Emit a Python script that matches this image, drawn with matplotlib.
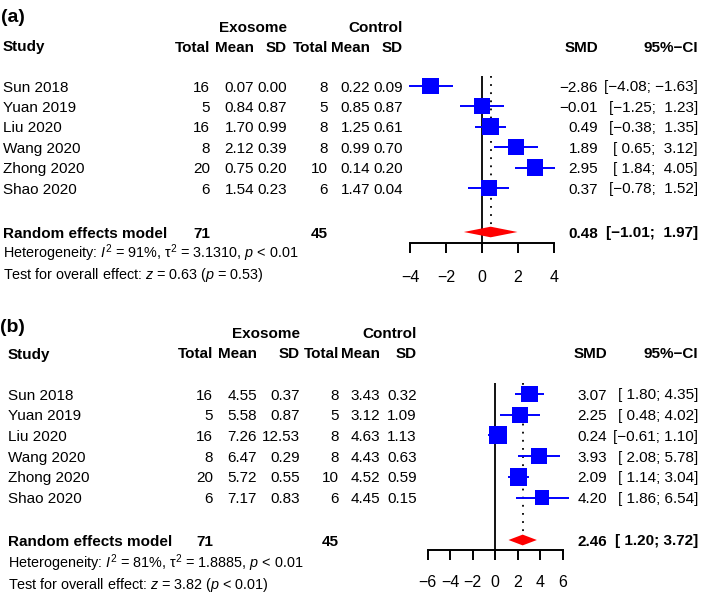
import matplotlib
matplotlib.use("Agg")
import matplotlib.pyplot as plt
from matplotlib.patches import Polygon

plt.rcParams['font.family'] = ['Liberation Sans', 'DejaVu Sans']
plt.rcParams['mathtext.fontset'] = 'custom'
plt.rcParams['mathtext.rm'] = 'Liberation Sans'
plt.rcParams['mathtext.it'] = 'Liberation Sans:italic'
plt.rcParams['mathtext.bf'] = 'Liberation Sans:bold'

MINUS = "\u2212"
W, H = 702, 592

studies = ["Sun 2018", "Yuan 2019", "Liu 2020", "Wang 2020", "Zhong 2020", "Shao 2020"]

# panel (a)
a_exo_n = [16, 5, 16, 8, 20, 6]
a_exo_mean = [0.07, 0.84, 1.70, 2.12, 0.75, 1.54]
a_exo_sd = [0.00, 0.87, 0.99, 0.39, 0.20, 0.23]
a_ctl_n = [8, 5, 8, 8, 10, 6]
a_ctl_mean = [0.22, 0.85, 1.25, 0.99, 0.14, 1.47]
a_ctl_sd = [0.09, 0.87, 0.61, 0.70, 0.20, 0.04]
a_smd = [-2.86, -0.01, 0.49, 1.89, 2.95, 0.37]
a_lo = [-4.08, -1.25, -0.38, 0.65, 1.84, -0.78]
a_hi = [-1.63, 1.23, 1.35, 3.12, 4.05, 1.52]
a_weight = [16.4, 16.4, 17.4, 16.4, 16.8, 16.6]
a_pooled = [0.48, -1.01, 1.97]
a_totals = [71, 45]
a_het = r"Heterogeneity: $I^2$ = 91%, $\mathrm{\tau}^2$ = 3.1310, $p$ < 0.01"
a_test = r"Test for overall effect: $z$ = 0.63 ($p$ = 0.53)"
a_ticks = [-4, -2, 0, 2, 4]

# panel (b)
b_exo_n = [16, 5, 16, 8, 20, 6]
b_exo_mean = [4.55, 5.58, 7.26, 6.47, 5.72, 7.17]
b_exo_sd = [0.37, 0.87, 12.53, 0.29, 0.55, 0.83]
b_ctl_n = [8, 5, 8, 8, 10, 6]
b_ctl_mean = [3.43, 3.12, 4.63, 4.43, 4.52, 4.45]
b_ctl_sd = [0.32, 1.09, 1.13, 0.63, 0.59, 0.15]
b_smd = [3.07, 2.25, 0.24, 3.93, 2.09, 4.20]
b_lo = [1.80, 0.48, -0.61, 2.08, 1.14, 1.86]
b_hi = [4.35, 4.02, 1.10, 5.78, 3.04, 6.54]
b_weight = [17.9, 15.3, 19.9, 14.9, 19.5, 12.5]
b_pooled = [2.46, 1.20, 3.72]
b_totals = [71, 45]
b_het = r"Heterogeneity: $I^2$ = 81%, $\mathrm{\tau}^2$ = 1.8885, $p$ < 0.01"
b_test = r"Test for overall effect: $z$ = 3.82 ($p$ < 0.01)"
b_ticks = [-6, -4, -2, 0, 2, 4, 6]


def num(v):
    return f"{v:.2f}".replace("-", MINUS)


def ci_strings(lo, hi):
    # padded like R's meta output
    los = [f"{v:.2f}" for v in lo]
    his = [f"{v:.2f}" for v in hi]
    wl = max(len(s) for s in los)
    wh = max(len(s) for s in his)
    out = []
    for l, h in zip(los, his):
        s = "[" + l.rjust(wl) + "; " + h.rjust(wh) + "]"
        out.append(s.replace("-", MINUS))
    return out


fig = plt.figure(figsize=(W / 100, H / 100), dpi=100)
tx = fig.add_axes([0, 0, 1, 1])
tx.set_xlim(0, W)
tx.set_ylim(H, 0)
tx.axis('off')

FS = 11
BASE = 5.5  # baseline offset from row centre, px


def put(x, y, s, ha='right', bold=False, size=FS):
    tx.text(x, y + BASE, s, ha=ha, va='baseline', fontsize=size,
            fontweight='bold' if bold else 'normal')


def panel(tag, exo_n, exo_mean, exo_sd, ctl_n, ctl_mean, ctl_sd, smd, lo, hi,
          weight, pooled, totals, het, test, ticks, lay):
    xl = lay['left']
    c = lay['cols']
    put(lay['tagx'], lay['tagy'], tag, ha='left', bold=True, size=14)
    put(c[2], lay['y_super'], "Exosome", bold=True)
    put(c[5], lay['y_super'], "Control", bold=True)
    put(xl, lay['y_head'], "Study", ha='left', bold=True)
    for x, s in zip(c, ["Total", "Mean", "SD", "Total", "Mean", "SD"]):
        put(x, lay['y_head'], s, bold=True)
    put(lay['smd'], lay['y_head'], "SMD", bold=True)
    put(lay['ci'], lay['y_head'], "95%" + MINUS + "CI", bold=True)

    cis = ci_strings(lo + [pooled[1]], hi + [pooled[2]])
    for i, name in enumerate(studies):
        y = lay['row0'] + i * lay['dy']
        put(xl, y, name, ha='left')
        vals = [str(exo_n[i]), num(exo_mean[i]), num(exo_sd[i]),
                str(ctl_n[i]), num(ctl_mean[i]), num(ctl_sd[i])]
        for x, s in zip(c, vals):
            put(x, y, s)
        put(lay['smd'], y, num(smd[i]))
        put(lay['ci'], y, cis[i])

    yr = lay['y_rand']
    put(xl, yr, "Random effects model", ha='left', bold=True)
    put(c[0], yr, str(totals[0]), bold=True)
    put(c[3], yr, str(totals[1]), bold=True)
    put(lay['smd'], yr, num(pooled[0]), bold=True)
    put(lay['ci'], yr, cis[-1], bold=True)
    put(xl, lay['y_het'], het, ha='left', size=10.4)
    put(xl, lay['y_test'], test, ha='left', size=10.4)

    # forest plot axes
    x0, x1 = lay['xlim']
    ppu = lay['ppu']
    left = lay['zero'] - (0 - x0) * ppu
    width = (x1 - x0) * ppu
    top, bot = lay['top'], lay['axis']
    ax = fig.add_axes([left / W, 1 - bot / H, width / W, (bot - top) / H])
    ax.patch.set_alpha(0)
    r_top = (top - lay['row0']) / lay['dy']
    r_bot = (bot - lay['row0']) / lay['dy']
    r_pool = (yr - lay['row0']) / lay['dy']
    ax.set_xlim(x0, x1)
    ax.set_ylim(r_bot, r_top)
    for s in ['left', 'right', 'top']:
        ax.spines[s].set_visible(False)
    ax.spines['bottom'].set_bounds(ticks[0], ticks[-1])
    ax.spines['bottom'].set_linewidth(1.4)
    ax.set_yticks([])
    ax.set_xticks(ticks)
    ax.set_xticklabels([str(t).replace("-", MINUS) for t in ticks])
    ax.tick_params(axis='x', direction='out', length=7.2, width=1.4,
                   labelsize=11.5, pad=lay['pad'])

    ax.axvline(0, color='black', lw=1.3)
    dh = 0.26
    ax.plot([pooled[0], pooled[0]], [r_top, r_pool - dh], color='black',
            lw=1.3, linestyle=(0, (1, 3.5)))
    rows = list(range(len(studies)))
    ax.hlines(rows, lo, hi, color='#0000FF', lw=1.4, clip_on=False)
    sizes = [(4.0 * w ** 0.5 * 0.72) ** 2 for w in weight]
    ax.scatter(smd, rows, s=sizes, marker='s', color='#0000FF', linewidths=0,
               zorder=5, clip_on=False)
    ax.add_patch(Polygon([(pooled[1], r_pool), (pooled[0], r_pool - dh),
                          (pooled[2], r_pool), (pooled[0], r_pool + dh)],
                         closed=True, facecolor='#FF0000', edgecolor='none',
                         zorder=4))


lay_a = dict(left=3, tagx=1, tagy=17, y_super=26, y_head=46, row0=86, dy=20.4,
             y_rand=232, y_het=253, y_test=273,
             cols=[210, 254, 287, 328, 370, 403], smd=598, ci=698,
             zero=482, ppu=18.0, xlim=(-5, 5), top=76, axis=243, pad=12)
lay_b = dict(left=8, tagx=0, tagy=326, y_super=332, y_head=353, row0=394, dy=20.7,
             y_rand=540, y_het=562, y_test=583,
             cols=[213, 257, 300, 339, 380, 417], smd=607, ci=698,
             zero=495, ppu=11.25, xlim=(-7, 7), top=383, axis=550, pad=11)

panel("(a)", a_exo_n, a_exo_mean, a_exo_sd, a_ctl_n, a_ctl_mean, a_ctl_sd,
      a_smd, a_lo, a_hi, a_weight, a_pooled, a_totals, a_het, a_test, a_ticks, lay_a)
panel("(b)", b_exo_n, b_exo_mean, b_exo_sd, b_ctl_n, b_ctl_mean, b_ctl_sd,
      b_smd, b_lo, b_hi, b_weight, b_pooled, b_totals, b_het, b_test, b_ticks, lay_b)

fig.savefig("out.png", dpi=100)
